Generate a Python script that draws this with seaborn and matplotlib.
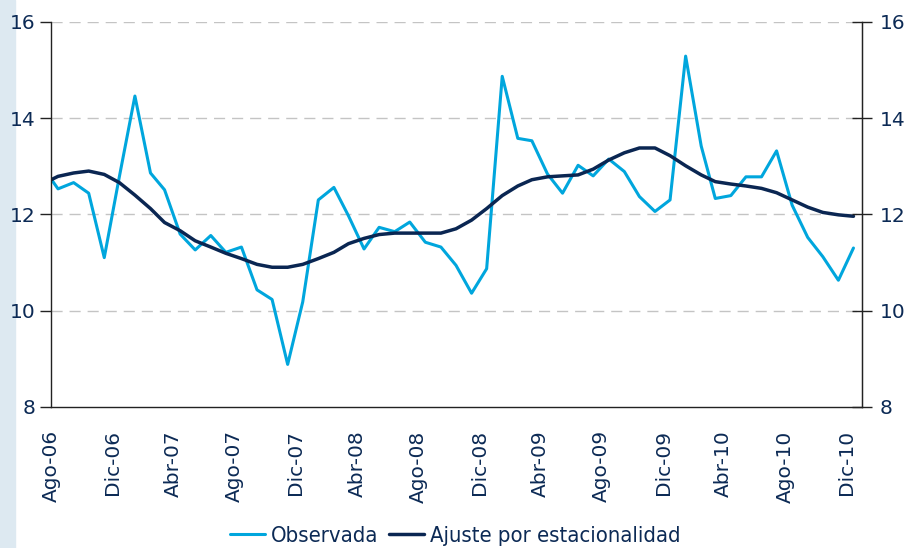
import numpy as np
import pandas as pd
import seaborn as sns
import matplotlib
matplotlib.use("Agg")
import matplotlib.pyplot as plt
from matplotlib.patches import Rectangle

#####################################################
## Data (monthly, Jul-06 .. Dic-10, plotted at mid month)
meses = pd.date_range("2006-07-01", "2010-12-01", freq="MS") + pd.Timedelta(days=14)

observada = [12.99, 12.53, 12.66, 12.44, 11.10, 12.78, 14.46, 12.86, 12.51, 11.59,
             11.26, 11.56, 11.21, 11.32, 10.43, 10.23, 8.88, 10.18, 12.30, 12.56,
             11.97, 11.28, 11.73, 11.64, 11.84, 11.42, 11.32, 10.94, 10.36, 10.87,
             14.87, 13.58, 13.53, 12.84, 12.44, 13.02, 12.80, 13.15, 12.89, 12.37,
             12.06, 12.30, 15.29, 13.42, 12.33, 12.39, 12.78, 12.78, 13.32, 12.19,
             11.52, 11.12, 10.63, 11.30]

ajuste = [12.63, 12.79, 12.86, 12.90, 12.83, 12.66, 12.40, 12.12, 11.83, 11.66,
          11.45, 11.32, 11.19, 11.08, 10.96, 10.90, 10.90, 10.96, 11.08, 11.21,
          11.39, 11.50, 11.58, 11.61, 11.61, 11.61, 11.61, 11.70, 11.88, 12.12,
          12.39, 12.59, 12.72, 12.78, 12.80, 12.82, 12.94, 13.13, 13.28, 13.38,
          13.38, 13.22, 13.01, 12.82, 12.68, 12.63, 12.59, 12.54, 12.45, 12.30,
          12.15, 12.04, 11.99, 11.96]

tick_fechas = pd.date_range("2006-08-01", "2010-12-01", freq="4MS")
tick_labels = ["Ago-06", "Dic-06", "Abr-07", "Ago-07", "Dic-07", "Abr-08", "Ago-08",
               "Dic-08", "Abr-09", "Ago-09", "Dic-09", "Abr-10", "Ago-10", "Dic-10"]
y_ticks = [8, 10, 12, 14, 16]
#####################################################

#####################################################
## Style
sns.set_style("white")
plt.rcParams['font.family'] = ['DejaVu Sans']
azul_claro = '#00a6dd'
azul_osc = '#0a2652'
texto = '#0c2a55'
#####################################################

fig = plt.figure(figsize=(9.09, 5.48), dpi=100)
fig.add_artist(Rectangle((0, 0), 15 / 909, 1, transform=fig.transFigure,
                         color='#dde9f1', zorder=0))
ax = fig.add_axes([0.0561, 0.2578, 0.8922, 0.7021])

sns.lineplot(x=meses, y=observada, color=azul_claro, linewidth=2.2,
             label='Observada', ax=ax)
sns.lineplot(x=meses, y=ajuste, color=azul_osc, linewidth=2.5,
             label='Ajuste por estacionalidad', ax=ax)

ax.set_xlim(pd.Timestamp("2006-08-01"), pd.Timestamp("2011-01-01"))
ax.set_ylim(8, 16)
ax.set_yticks(y_ticks)
ax.set_xticks(tick_fechas)
ax.set_xticklabels(tick_labels, rotation=90, fontsize=14.5, color=texto)
ax.set_yticklabels([str(v) for v in y_ticks], fontsize=14.5, color=texto)
ax.set_xlabel('')
ax.set_ylabel('')

for v in y_ticks[1:]:
    ax.axhline(v, color='#c4c4c4', linewidth=1, dashes=(8, 5), zorder=0)

for side in ['left', 'bottom', 'right']:
    ax.spines[side].set_color('#222222')
    ax.spines[side].set_linewidth(1.0)
ax.spines['top'].set_visible(False)
ax.tick_params(axis='y', direction='out', length=8, width=1, color='#222222', pad=3)
ax.tick_params(axis='x', direction='out', length=6, width=1, color='#222222', pad=11)

ax2 = ax.twinx()
ax2.set_ylim(8, 16)
ax2.set_yticks(y_ticks)
ax2.set_yticklabels([str(v) for v in y_ticks], fontsize=14.5, color=texto)
ax2.tick_params(axis='y', direction='inout', length=14, width=1, color='#222222', pad=6)
for side in ['left', 'top', 'bottom']:
    ax2.spines[side].set_visible(False)
ax2.spines['right'].set_color('#222222')

handles, labels = ax.get_legend_handles_labels()
ax.get_legend().remove()
fig.legend(handles, labels, loc='center', bbox_to_anchor=(0.501, 0.022), ncol=2,
           frameon=False, handlelength=1.6, handletextpad=0.27, columnspacing=0.5,
           borderpad=0, prop={'family': 'DejaVu Sans', 'stretch': 'condensed', 'size': 15.8},
           labelcolor=texto)

fig.savefig('out.png', dpi=100)
